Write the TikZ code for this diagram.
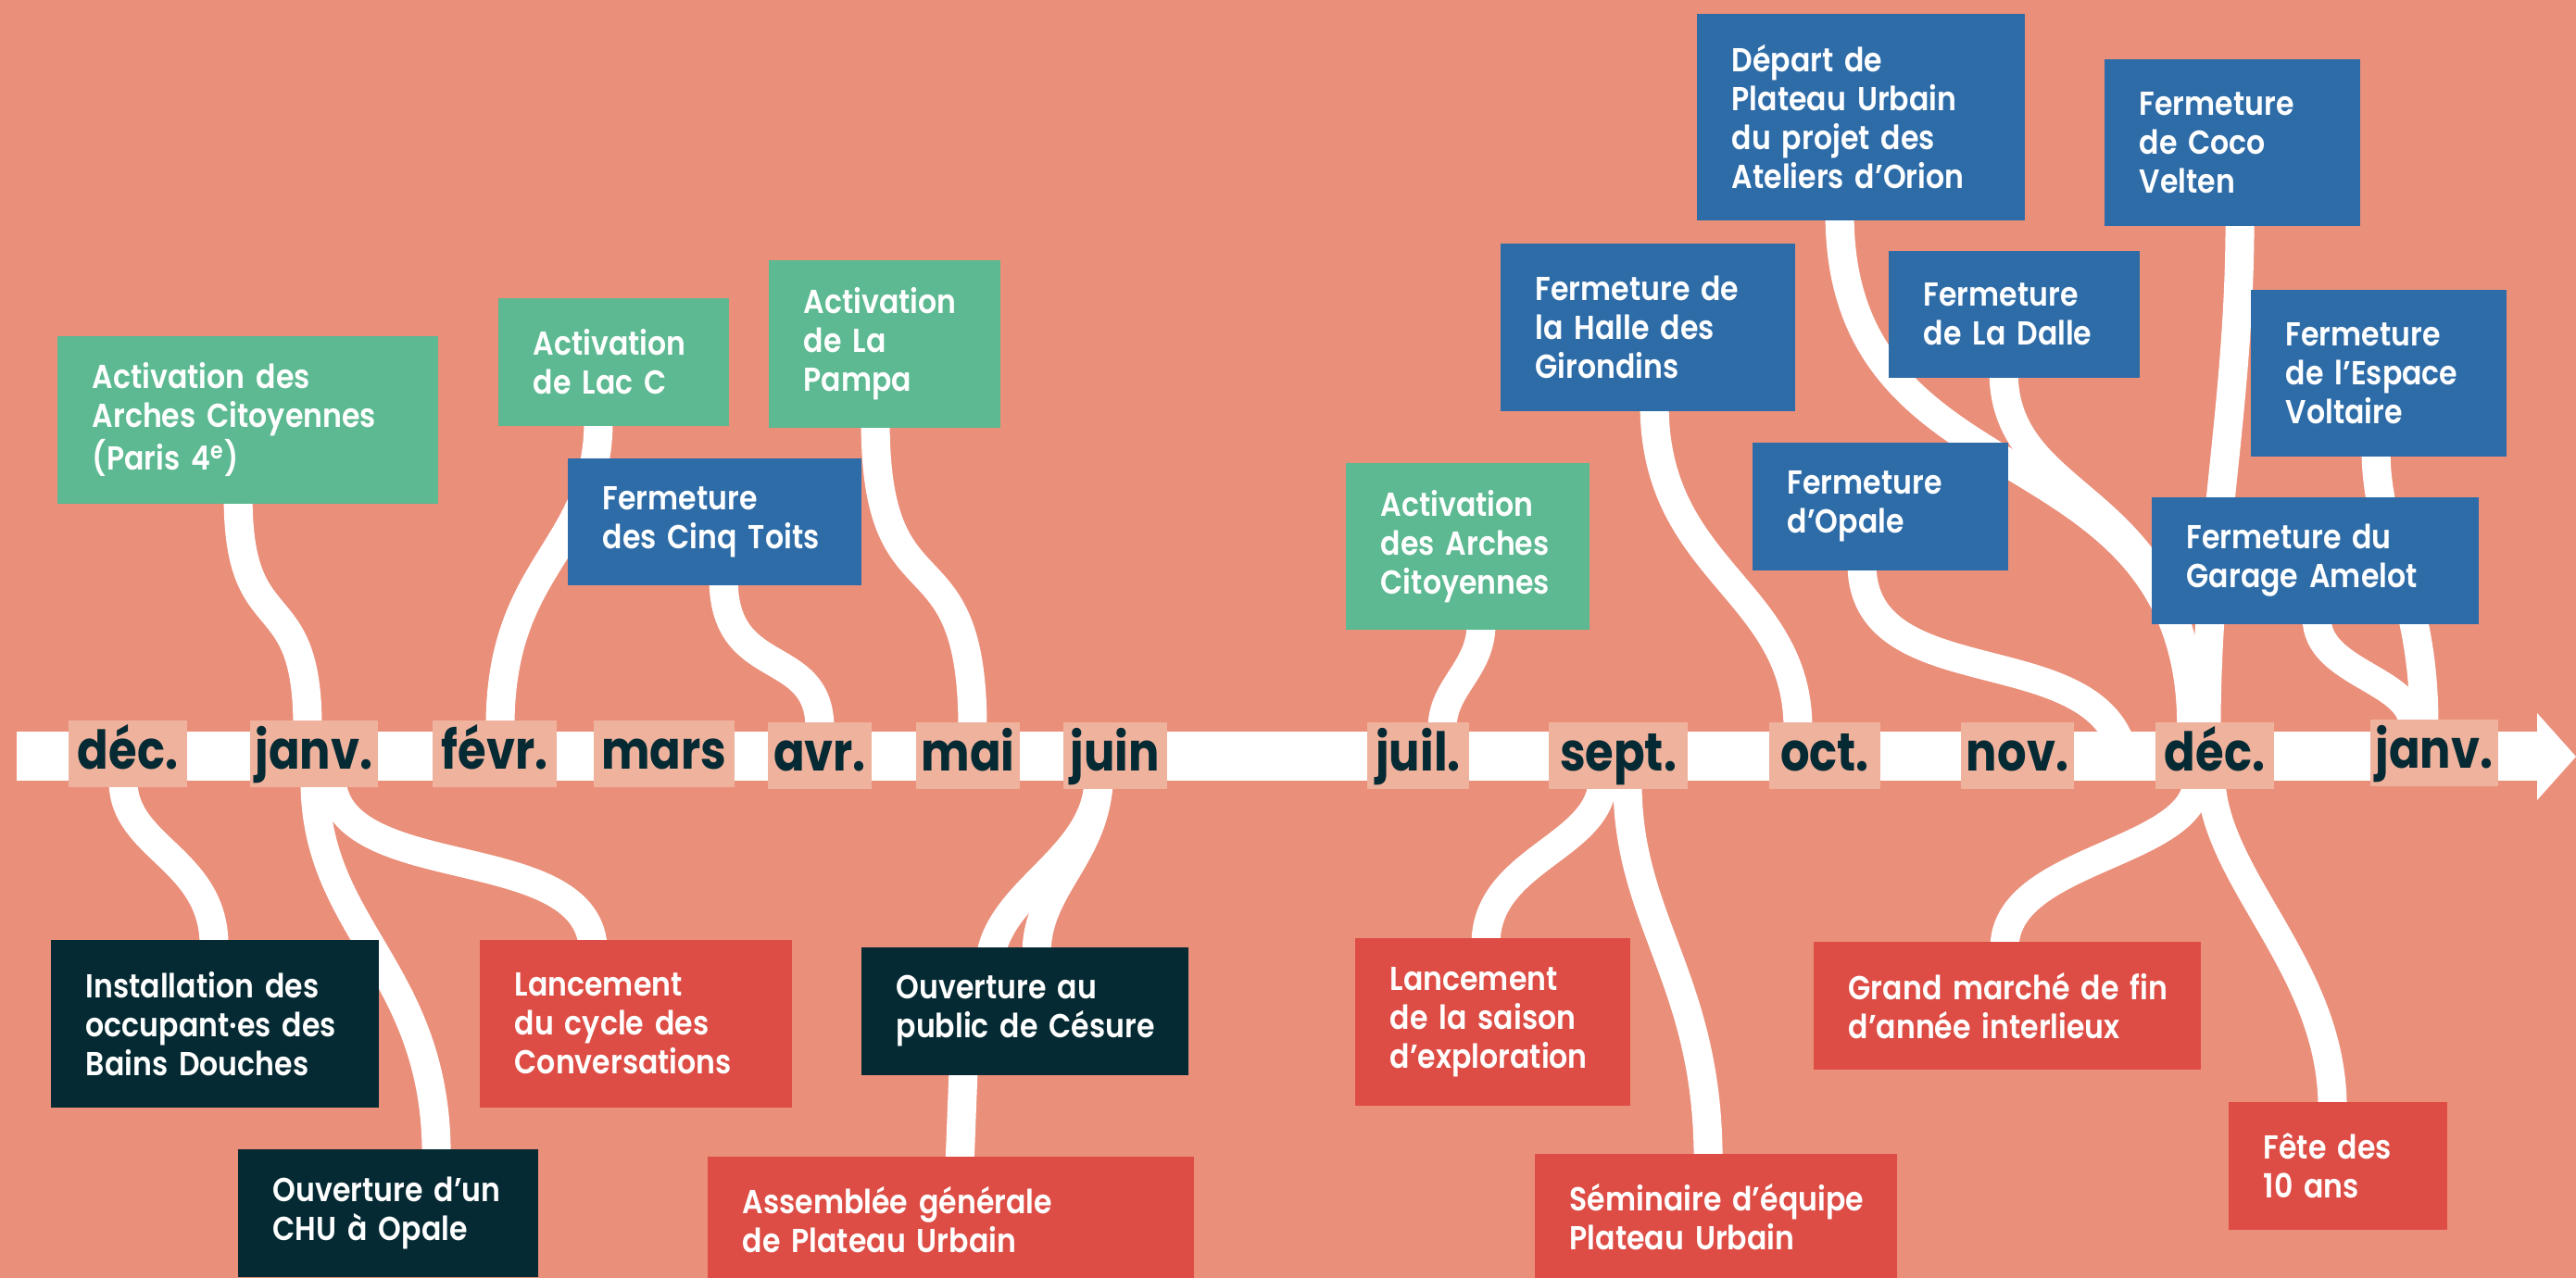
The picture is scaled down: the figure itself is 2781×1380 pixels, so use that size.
\documentclass[tikz,border=0pt]{standalone}
\usepackage{fontspec}
\setmainfont{Poppins}[UprightFont=* SemiBold, BoldFont=* Bold, FakeStretch=0.88]
\newfontfamily\moisfam{Poppins}[UprightFont=* Bold, FakeStretch=0.86]
\usepackage{xcolor}
\definecolor{Salmon}{HTML}{EA8F7A}
\definecolor{Peach}{HTML}{EFB29D}
\definecolor{Jade}{HTML}{5CB991}
\definecolor{Cobalt}{HTML}{2E6CA8}
\definecolor{Ink}{HTML}{052A33}
\definecolor{Vermilion}{HTML}{DD4D45}
\newcommand{\evtfont}{\fontsize{10.2pt}{11.95pt}\selectfont}
\newcommand{\moisfont}{\moisfam\fontsize{16.4pt}{18pt}\selectfont}
\pgfdeclarelayer{fond}
\pgfdeclarelayer{liens}
\pgfsetlayers{fond,liens,main}

\begin{document}
\begin{tikzpicture}[x=0.01cm, y=-0.01cm,
  evt/.style={anchor=north west, inner xsep=0.2cm, inner ysep=0pt, align=left, text=white,
    font=\evtfont, execute at begin node={\leftskip=0.18cm}},
  mois/.style={fill=Peach, text=Ink, minimum height=0.72cm, inner sep=0pt, text height=0.42cm, text depth=0.1cm, font=\moisfont},
  lien/.style={draw=white, line width=0.31cm}]
  \useasboundingbox (0,0) rectangle (2781,1380);

  % months on the axis
  \node[mois, minimum width=1.28cm] (dec)   at (138,814)  {déc.};
  \node[mois, minimum width=1.38cm] (janv)  at (339,814)  {janv.};
  \node[mois, minimum width=1.33cm] (fevr)  at (534,814)  {févr.};
  \node[mois, minimum width=1.52cm] (mars)  at (717,814)  {mars};
  \node[mois, minimum width=1.11cm] (avr)   at (885,816)  {avr.};
  \node[mois, minimum width=1.12cm] (mai)   at (1045,816) {mai};
  \node[mois, minimum width=1.11cm] (juin)  at (1204,816) {juin};
  \node[mois, minimum width=1.09cm] (juil)  at (1531,816) {juil.};
  \node[mois, minimum width=1.50cm] (sept)  at (1747,816) {sept.};
  \node[mois, minimum width=1.20cm] (oct)   at (1970,816) {oct.};
  \node[mois, minimum width=1.22cm] (nov)   at (2178,816) {nov.};
  \node[mois, minimum width=1.28cm] (decb)  at (2391,816) {déc.};
  \node[mois, minimum width=1.38cm] (janvb) at (2628,813) {janv.};
  \coordinate (opalefin) at (2290,805);

  % above the axis
  \node[evt, fill=Jade, text width=3.71cm, minimum height=1.81cm] (arches) at (61,362)
    {Activation des\\Arches Citoyennes\\(Paris 4\textsuperscript{e})};
  \node[evt, fill=Jade, text width=2.09cm, minimum height=1.38cm] (lacc) at (537,321)
    {Activation\\de Lac C};
  \node[evt, fill=Jade, text width=2.10cm, minimum height=1.81cm] (pampa) at (829,280)
    {Activation\\de La\\Pampa};
  \node[evt, fill=Cobalt, text width=2.77cm, minimum height=1.37cm] (cinqtoits) at (612,494)
    {Fermeture\\des Cinq Toits};
  \node[evt, fill=Jade, text width=2.23cm, minimum height=1.80cm] (archescit) at (1452,499)
    {Activation\\des Arches\\Citoyennes};
  \node[evt, fill=Cobalt, text width=2.78cm, minimum height=1.81cm] (halle) at (1619,262)
    {Fermeture de\\la Halle des\\Girondins};
  \node[evt, fill=Cobalt, text width=3.14cm, minimum height=2.23cm] (orion) at (1831,14)
    {Départ de\\Plateau Urbain\\du projet des\\Ateliers d’Orion};
  \node[evt, fill=Cobalt, text width=2.36cm, minimum height=1.80cm] (coco) at (2271,63)
    {Fermeture\\de Coco\\Velten};
  \node[evt, fill=Cobalt, text width=2.31cm, minimum height=1.37cm] (dalle) at (2038,270)
    {Fermeture\\de La Dalle};
  \node[evt, fill=Cobalt, text width=2.36cm, minimum height=1.80cm] (voltaire) at (2429,312)
    {Fermeture\\de l’Espace\\Voltaire};
  \node[evt, fill=Cobalt, text width=2.36cm, minimum height=1.38cm] (opale) at (1891,477)
    {Fermeture\\d’Opale};
  \node[evt, fill=Cobalt, text width=3.13cm, minimum height=1.37cm] (amelot) at (2322,536)
    {Fermeture du\\Garage Amelot};

  % below the axis
  \node[evt, fill=Ink, text width=3.14cm, minimum height=1.81cm] (bains) at (54,1014)
    {Installation des\\occupant·es des\\Bains Douches};
  \node[evt, fill=Ink, text width=2.84cm, minimum height=1.38cm] (chu) at (256,1240)
    {Ouverture d’un\\CHU à Opale};
  \node[evt, fill=Vermilion, text width=2.97cm, minimum height=1.81cm] (conv) at (517,1014)
    {Lancement\\du cycle des\\Conversations};
  \node[evt, fill=Ink, text width=3.13cm, minimum height=1.38cm] (cesure) at (929,1022)
    {Ouverture au\\public de Césure};
  \node[evt, fill=Vermilion, text width=4.85cm, minimum height=1.37cm] (ag) at (763,1248)
    {Assemblée générale\\de Plateau Urbain};
  \node[evt, fill=Vermilion, text width=2.57cm, minimum height=1.81cm] (saison) at (1462,1012)
    {Lancement\\de la saison\\d’exploration};
  \node[evt, fill=Vermilion, text width=3.51cm, minimum height=1.37cm] (seminaire) at (1656,1245)
    {Séminaire d’équipe\\Plateau Urbain};
  \node[evt, fill=Vermilion, text width=3.78cm, minimum height=1.38cm] (marche) at (1957,1016)
    {Grand marché de fin\\d’année interlieux};
  \node[evt, fill=Vermilion, text width=1.96cm, minimum height=1.38cm] (fete) at (2405,1189)
    {Fête des\\10 ans};

  \begin{pgfonlayer}{fond}
    \fill[Salmon] (0,0) rectangle (2781,1380);
  \end{pgfonlayer}

  \begin{pgfonlayer}{liens}
    % the axis and its arrow
    \fill[white] (18,790) rectangle (2739,843);
    \fill[white] (2739,770) -- (2781,817) -- (2739,864) -- cycle;

    % upper connectors
    \draw[lien] ([xshift=1.96cm,yshift=2pt]arches.south west) .. controls +(0,157) and +(0,-157) .. ([xshift=-0.07cm,yshift=-2pt]janv.north);
    \draw[lien] ([xshift=1.09cm,yshift=2pt]lacc.south west) .. controls +(0,141) and +(0,-177) .. ([xshift=0.06cm,yshift=-2pt]fevr.north);
    \draw[lien] ([xshift=1.69cm,yshift=2pt]cinqtoits.south west) .. controls +(0,110) and +(0,-90) .. ([yshift=-2pt]avr.north);
    \draw[lien] ([xshift=1.16cm,yshift=2pt]pampa.south west) .. controls +(0,219) and +(0,-220) .. ([xshift=0.05cm,yshift=-2pt]mai.north);
    \draw[lien] ([xshift=1.47cm,yshift=2pt]archescit.south west) .. controls +(0,50) and +(0,-45) .. ([xshift=0.26cm,yshift=-2pt]juil.north);
    \draw[lien] ([xshift=1.67cm,yshift=2pt]halle.south west) .. controls +(0,180) and +(0,-150) .. ([xshift=-0.29cm,yshift=-2pt]oct.north);
    \draw[lien] ([xshift=1.55cm,yshift=2pt]orion.south west) .. controls +(0,320) and +(0,-330) .. ([xshift=-0.25cm,yshift=-2pt]decb.north);
    \draw[lien] ([xshift=1.25cm,yshift=2pt]dalle.south west) .. controls +(0,150) and +(0,-260) .. ([xshift=-0.25cm,yshift=-2pt]decb.north);
    \draw[lien] ([xshift=1.47cm,yshift=2pt]coco.south west) .. controls +(0,200) and +(0,-200) .. ([xshift=-0.09cm,yshift=-2pt]decb.north);
    \draw[lien] ([xshift=1.36cm,yshift=2pt]voltaire.south west) .. controls +(0,100) and +(0,-150) .. ([xshift=-0.11cm,yshift=-2pt]janvb.north);
    \draw[lien] ([xshift=1.79cm,yshift=2pt]amelot.south west) .. controls +(0,60) and +(0,-50) .. ([xshift=-0.23cm,yshift=-2pt]janvb.north);
    \draw[lien] ([xshift=1.19cm,yshift=2pt]opale.south west) .. controls +(0,140) and +(-40,-115) .. (opalefin);

    % lower connectors
    \draw[lien] ([xshift=-0.05cm,yshift=2pt]dec.south) .. controls +(0,72) and +(0,-94) .. ([xshift=1.77cm,yshift=-2pt]bains.north west);
    \draw[lien] ([xshift=0.01cm,yshift=2pt]janv.south) .. controls +(0,160) and +(0,-200) .. ([xshift=2.15cm,yshift=-2pt]chu.north west);
    \draw[lien] ([xshift=0.19cm,yshift=2pt]janv.south) .. controls +(10,112) and +(-10,-114) .. ([xshift=1.23cm,yshift=-2pt]conv.north west);
    \draw[lien] ([xshift=-0.18cm,yshift=2pt]juin.south) .. controls +(-5,80) and +(15,-70) .. ([xshift=1.41cm,yshift=-2pt]cesure.north west);
    \draw[lien] ([xshift=-0.18cm,yshift=2pt]juin.south) .. controls +(-5,80) and +(0,-70) .. ([xshift=1.90cm,yshift=-2pt]cesure.north west);
    \draw[lien] ([xshift=1.11cm,yshift=2pt]cesure.south west) -- ([xshift=2.73cm,yshift=-2pt]ag.north west);
    \draw[lien] ([xshift=-0.17cm,yshift=2pt]sept.south) .. controls +(-5,70) and +(0,-90) .. ([xshift=1.42cm,yshift=-2pt]saison.north west);
    \draw[lien] ([xshift=0.10cm,yshift=2pt]sept.south) .. controls +(0,150) and +(0,-195) .. ([xshift=1.88cm,yshift=-2pt]seminaire.north west);
    \draw[lien] ([xshift=-0.19cm,yshift=2pt]decb.south) .. controls +(-7,78) and +(0,-96) .. ([xshift=2.07cm,yshift=-2pt]marche.north west);
    \draw[lien] ([xshift=-0.04cm,yshift=2pt]decb.south) .. controls +(8,108) and +(0,-149) .. ([xshift=1.13cm,yshift=-2pt]fete.north west);
  \end{pgfonlayer}
\end{tikzpicture}
\end{document}
